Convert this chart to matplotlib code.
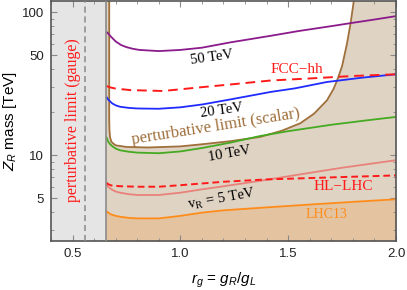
import numpy as np
import matplotlib
matplotlib.use("Agg")
import matplotlib.pyplot as plt
from matplotlib.ticker import FixedLocator, NullFormatter, LogLocator

plt.rcParams['font.family'] = ['Liberation Sans', 'DejaVu Sans']
plt.rcParams['mathtext.fontset'] = 'custom'
plt.rcParams['mathtext.rm'] = 'Liberation Sans'
plt.rcParams['mathtext.it'] = 'Liberation Sans:italic'

# ---- data ----
r_gauge_limit = 0.655
r_gauge_dashed = 0.557

purple_r = [0.657, 0.665, 0.68, 0.70, 0.725, 0.75, 0.78, 0.81, 0.90, 1.00, 1.10, 1.23, 1.42, 1.55, 1.70, 1.79, 1.90, 2.00]
purple_v = [73, 71, 67, 62.5, 59, 57, 55.5, 54.5, 53.5, 54.5, 56.5, 61.5, 68.5, 74, 80, 84, 89, 94]

blue_r = [0.657, 0.665, 0.684, 0.70, 0.72, 0.76, 0.80, 0.90, 1.00, 1.10, 1.23, 1.42, 1.53, 1.68, 1.84, 2.00]
blue_v = [25.6, 24.5, 23.0, 22.3, 21.8, 21.4, 21.2, 21.1, 21.6, 22.6, 24.5, 27.7, 29.3, 32.5, 34.8, 36.8]

fcc_r = [0.657, 0.67, 0.70, 0.77, 0.92, 1.08, 1.23, 1.42, 1.60, 1.80, 2.00]
fcc_v = [30.5, 29.9, 29.2, 28.5, 28.1, 29.7, 31.2, 33.3, 34.4, 35.8, 36.8]

green_r = [0.657, 0.663, 0.672, 0.685, 0.70, 0.72, 0.76, 0.80, 0.90, 1.00, 1.10, 1.23, 1.37, 1.50, 1.70, 1.85, 2.00]
green_v = [13.4, 12.6, 12.0, 11.5, 11.1, 10.8, 10.55, 10.4, 10.3, 10.6, 11.2, 12.2, 13.6, 14.7, 16.3, 17.4, 18.5]

salmon_r = [0.657, 0.665, 0.68, 0.70, 0.72, 0.76, 0.80, 0.90, 1.00, 1.10, 1.25, 1.37, 1.55, 1.75, 2.00]
salmon_v = [6.2, 6.0, 5.75, 5.55, 5.45, 5.32, 5.25, 5.25, 5.45, 5.75, 6.2, 6.6, 7.3, 8.15, 9.2]

hl_r = [0.657, 0.665, 0.68, 0.72, 0.80, 0.90, 1.00, 1.20, 1.40, 1.60, 1.80, 2.00]
hl_v = [6.4, 6.25, 6.12, 6.05, 6.0, 6.0, 6.15, 6.5, 6.75, 6.9, 7.05, 7.2]

lhc_r = [0.657, 0.665, 0.68, 0.70, 0.72, 0.76, 0.80, 0.90, 1.00, 1.10, 1.20, 1.40, 1.60, 1.80, 2.00]
lhc_v = [4.05, 3.95, 3.83, 3.75, 3.7, 3.63, 3.6, 3.6, 3.75, 3.95, 4.1, 4.3, 4.5, 4.7, 4.9]

scalar_r = [0.670, 0.670, 0.671, 0.674, 0.68, 0.69, 0.70, 0.75, 0.85, 1.00, 1.10, 1.23, 1.37, 1.47, 1.556,
            1.62, 1.68, 1.71, 1.727, 1.75, 1.773, 1.79, 1.806]
scalar_v = [125, 18, 15, 13.3, 12.4, 12.0, 11.7, 11.4, 11.3, 11.5, 11.9, 12.5, 13.4, 14.8, 16.7,
            19.5, 24.2, 29, 33.4, 42, 60.7, 85, 125]

xticks = [0.5, 1.0, 1.5, 2.0]
xtick_labels = ['0.5', '1.0', '1.5', '2.0']
yticks = [5, 10, 50, 100]
ytick_labels = ['5', '10', '50', '100']

# ---- figure ----
fig = plt.figure(figsize=(4.07, 2.90), dpi=100)
ax = fig.add_axes([51/407, 1 - 241/290, (396-51)/407, 240/290])
ax.set_yscale('log')
xmin, xmax = 0.4, 2.0
ymin, ymax = 2.5, 120
ax.set_xlim(xmin, xmax)
ax.set_ylim(ymin, ymax)

tan_light = '#DFD3C4'
tan_dark = '#E3C3A0'
gray_fill = '#E5E5E5'

# gauge excluded region
ax.axvspan(xmin, r_gauge_limit, color=gray_fill, zorder=0, lw=0)
ax.axvline(r_gauge_limit, color='#8a8a8a', lw=1.2, zorder=3)
ax.axvline(r_gauge_dashed, color='#8a8a8a', lw=1.1, ls=(0, (4, 2.5)), zorder=3)

# scalar-perturbativity shading
ax.axvspan(r_gauge_limit, xmax, color=tan_light, zorder=0, lw=0)
ax.fill(scalar_r, scalar_v, color='white', zorder=0.5, lw=0)
ax.fill_between(lhc_r, ymin, lhc_v, color=tan_dark, zorder=0.6, lw=0)
ax.plot(scalar_r, scalar_v, color='#A0703C', lw=1.3, zorder=2, solid_joinstyle='round')

lw = 1.3
kw = dict(zorder=2, solid_joinstyle='round', solid_capstyle='butt')
ax.plot(purple_r, purple_v, color='#8B1A8B', lw=lw, **kw)
ax.plot(blue_r, blue_v, color='#1F2BFF', lw=lw, **kw)
ax.plot(green_r, green_v, color='#45AA22', lw=lw, **kw)
ax.plot(salmon_r, salmon_v, color='#E8827A', lw=lw, **kw)
ax.plot(lhc_r, lhc_v, color='#FF8C1A', lw=lw, **kw)
ax.plot(fcc_r, fcc_v, color='#FF1A1A', lw=1.4, ls=(0, (5, 3)), zorder=2.5)
ax.plot(hl_r, hl_v, color='#FF1A1A', lw=1.4, ls=(0, (3.5, 2)), zorder=2.5)

serif = ['Liberation Serif', 'DejaVu Serif']
ax.text(1.146, 48.0, '50 TeV', family=serif, fontsize=10.5, rotation=8, ha='center', va='center')
ax.text(1.193, 20.6, '20 TeV', family=serif, fontsize=10.5, rotation=8, ha='center', va='center')
ax.text(1.228, 10.24, '10 TeV', family=serif, fontsize=10.5, rotation=10, ha='center', va='center')
ax.text(1.19, 4.96, r'v$_\mathregular{R}$ = 5 TeV', family=serif, fontsize=10.5, rotation=10,
        ha='center', va='center')
ax.text(1.165, 15.7, 'perturbative limit (scalar)', family=serif, fontsize=12, rotation=9,
        ha='center', va='center', color='#A0703C')
ax.text(1.538, 40.0, 'FCC\u2212hh', family=serif, fontsize=11, ha='center', va='center', color='#FF1A1A')
ax.text(1.754, 6.03, 'HL\u2212LHC', family=serif, fontsize=11, ha='center', va='center', color='#FF1A1A')
ax.text(1.677, 3.81, 'LHC13', family=serif, fontsize=10, ha='center', va='center', color='#FF8C1A')
ax.text(0.502, 17.6, 'perturbative limit (gauge)', family=serif, fontsize=11.5, rotation=90,
        ha='center', va='center', color='#FF1A1A')

# axes styling
for s in ax.spines.values():
    s.set_color('#555555')
    s.set_linewidth(1.2)
ax.xaxis.set_major_locator(FixedLocator(xticks))
ax.set_xticklabels(xtick_labels)
ax.xaxis.set_minor_locator(FixedLocator(np.arange(0.4, 2.001, 0.1)))
ax.yaxis.set_major_locator(FixedLocator(yticks))
ax.set_yticklabels(ytick_labels)
ax.yaxis.set_minor_locator(LogLocator(base=10, subs=np.arange(1, 10)))
ax.yaxis.set_minor_formatter(NullFormatter())
ax.tick_params(which='both', direction='in', top=True, right=True, color='#888888', labelsize=9.5,
               labelcolor='#222222')
ax.tick_params(which='major', length=4, width=0.8, pad=5)
ax.tick_params(which='minor', length=2.2, width=0.6)

ax.set_xlabel(r'$r_g$ = $g_R/g_L$', fontsize=11, labelpad=8)
ax.set_ylabel(r'$Z_R$ mass [TeV]', fontsize=11, labelpad=2)

fig.savefig('out.png', dpi=100)
